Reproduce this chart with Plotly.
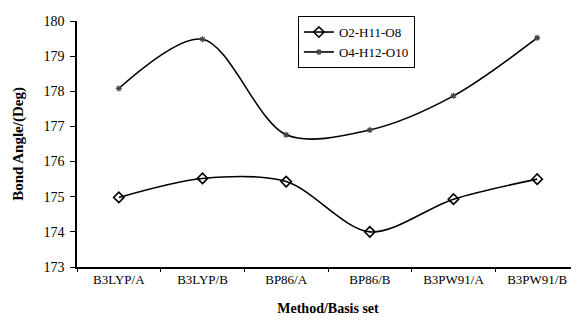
import plotly.graph_objects as go

categories = ["B3LYP/A", "B3LYP/B", "BP86/A", "BP86/B", "B3PW91/A", "B3PW91/B"]
o2_h11_o8 = [174.98, 175.52, 175.43, 174.00, 174.93, 175.50]
o4_h12_o10 = [178.08, 179.48, 176.76, 176.90, 177.87, 179.52]
y_ticks = [173, 174, 175, 176, 177, 178, 179, 180]

font = "Times New Roman, Liberation Serif, serif"

fig = go.Figure()
fig.add_trace(go.Scatter(
    x=categories, y=o2_h11_o8, name="O2-H11-O8",
    mode="lines+markers",
    line=dict(color="black", width=1.6, shape="spline", smoothing=0.9),
    marker=dict(symbol="diamond-open", size=8, color="black", line=dict(width=1.6)),
))
fig.add_trace(go.Scatter(
    x=categories, y=o4_h12_o10, name="O4-H12-O10",
    mode="lines+markers",
    line=dict(color="black", width=1.6, shape="spline", smoothing=0.9),
    marker=dict(symbol="asterisk-open", size=5, color="#444", line=dict(width=1.2, color="#444")),
))

fig.update_layout(
    width=571, height=314,
    margin=dict(l=69, r=0, t=13, b=55, autoexpand=False),
    paper_bgcolor="white", plot_bgcolor="white",
    font=dict(family=font, size=12, color="black"),
    showlegend=True,
    legend=dict(
        x=0.44, y=1.02, xanchor="left", yanchor="top",
        bordercolor="black", borderwidth=1, bgcolor="white",
        font=dict(family=font, size=13, color="black"),
        tracegroupgap=0, itemwidth=30,
    ),
    xaxis=dict(
        type="category", range=[-0.5, 5.5],
        showline=True, linecolor="black", linewidth=1.5,
        ticks="outside", tickson="boundaries", ticklen=3, tickcolor="black",
        showgrid=False, zeroline=False,
        tickfont=dict(family=font, size=13, color="black"),
        title=dict(text="<b>Method/Basis set</b>", font=dict(family=font, size=14), standoff=17),
    ),
    yaxis=dict(
        range=[173, 180], tickvals=y_ticks,
        showline=True, linecolor="black", linewidth=1.5,
        ticks="outside", ticklen=5, tickcolor="black", ticklabelstandoff=3,
        showgrid=False, zeroline=False,
        tickfont=dict(family=font, size=14, color="black"),
        title=dict(text="<b>Bond Angle/(Deg)</b>", font=dict(family=font, size=15), standoff=16),
    ),
)

fig.write_html("out.html")
